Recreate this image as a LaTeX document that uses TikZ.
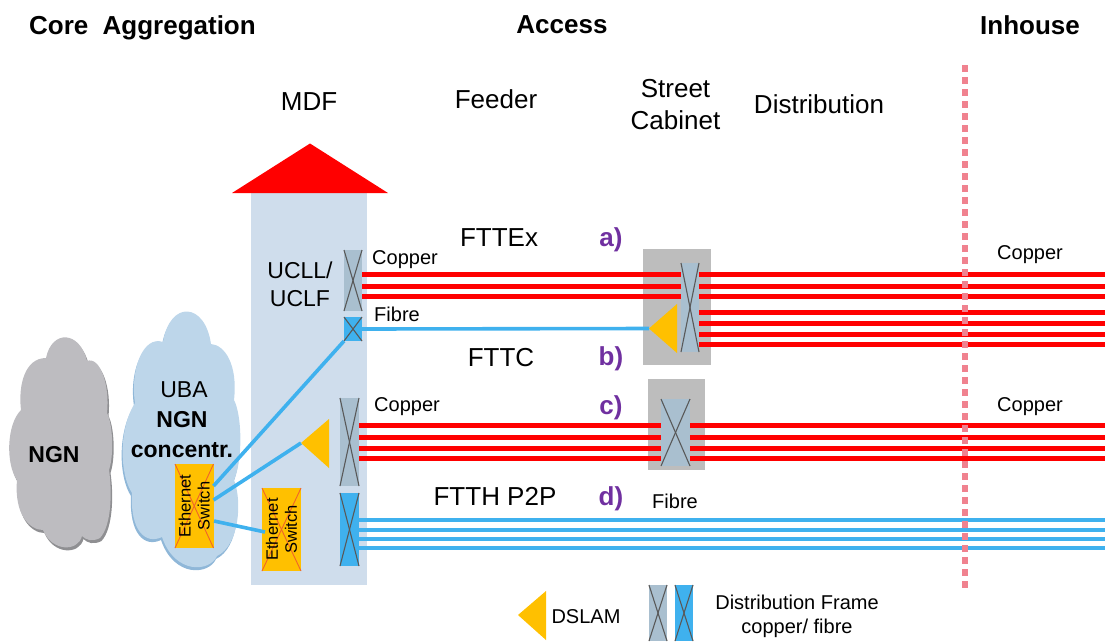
\documentclass[tikz,border=0pt]{standalone}
\usepackage{fontspec}
\setmainfont{Liberation Sans}
\definecolor{cuframe}{HTML}{A9BFCF}
\definecolor{fiframe}{HTML}{3FB1EE}
\definecolor{crossc}{HTML}{595959}
\definecolor{bldg}{HTML}{CFDDEC}
\definecolor{cabin}{HTML}{BDBDBD}
\definecolor{amber}{HTML}{FFC000}
\definecolor{swx}{HTML}{F0642A}
\definecolor{fib}{HTML}{3FB1EE}
\definecolor{purp}{HTML}{7030A0}
\definecolor{dotc}{HTML}{F0828F}
\definecolor{cgray}{HTML}{BDBCC0}
\definecolor{sgray}{HTML}{8F8F92}
\definecolor{cblue}{HTML}{BDD6EA}
\definecolor{sblue}{HTML}{8FB7D8}
\tikzset{
  box/.style={rectangle,draw=none,inner sep=0pt,outer sep=0pt},
  crossln/.style={draw=crossc,line width=1.1pt},
  swcross/.style={draw=swx,line width=0.9pt},
  copper/.style={draw=red,line width=5pt},
  fibre/.style={draw=fib,line width=3.6pt},
  txtL/.style={font=\fontsize{26}{32}\selectfont,align=center,inner sep=0pt},
  txtB/.style={font=\fontsize{26}{32}\selectfont\bfseries,align=center,inner sep=0pt},
  txtM/.style={font=\fontsize{23}{28}\selectfont,align=center,inner sep=0pt},
  txtMB/.style={font=\fontsize{23}{30}\selectfont\bfseries,align=center,inner sep=0pt},
  txtS/.style={font=\fontsize{20}{24}\selectfont,align=center,inner sep=0pt},
  swtxt/.style={font=\fontsize{16.5}{19}\selectfont,align=center,inner sep=0pt,rotate=90},
  tag/.style={font=\fontsize{26}{30}\selectfont\bfseries,text=purp,inner sep=0pt},
}
\newcommand{\frm}[6]{% name, x1, y1, x2, y2, fill
  \node[box,fill=#6,minimum width={(#4-#2)*1pt},minimum height={(#5-#3)*1pt}] (#1) at ({(#2+#4)/2},{(#3+#5)/2}) {};
  \draw[crossln] (#1.north west) -- (#1.south east);
  \draw[crossln] (#1.north east) -- (#1.south west);
}
\newcommand{\swbox}[5]{% name, x1, y1, x2, y2
  \node[box,fill=amber,minimum width={(#4-#2)*1pt},minimum height={(#5-#3)*1pt}] (#1) at ({(#2+#4)/2},{(#3+#5)/2}) {};
  \draw[swcross] (#1.north west) -- (#1.south east);
  \draw[swcross] (#1.north east) -- (#1.south west);
  \node[swtxt] (#1t) at (#1) {Ethernet\\Switch};
}
\newcommand{\graycloud}{(46,358) .. controls (52,329) and (80,331) .. (87,361)
  .. controls (100,356) and (110,385) .. (107,413)
  .. controls (113,425) and (114,455) .. (109,470)
  .. controls (112,490) and (112,525) .. (100,538)
  .. controls (92,542) and (86,540) .. (82,536)
  .. controls (78,552) and (52,552) .. (43,530)
  .. controls (30,530) and (14,515) .. (17,480)
  .. controls (6,465) and (6,425) .. (21,410)
  .. controls (18,385) and (25,358) .. (46,358) -- cycle}
\newcommand{\bluecloud}{(163,342) .. controls (170,300) and (205,302) .. (211,344)
  .. controls (225,345) and (238,365) .. (234,400)
  .. controls (242,415) and (243,460) .. (234,480)
  .. controls (242,500) and (240,545) .. (217,556)
  .. controls (210,572) and (175,575) .. (162,537)
  .. controls (145,545) and (130,530) .. (132,493)
  .. controls (120,475) and (118,430) .. (135,403)
  .. controls (130,370) and (143,335) .. (163,342) -- cycle}
\begin{document}
\begin{tikzpicture}[x=1pt,y=-1pt]
\useasboundingbox (0,0) rectangle (1105,641);
% clouds
\fill[sgray,shift={(1.5,3)}] \graycloud;
\fill[cgray] \graycloud;
\fill[sblue,shift={(-1,3)}] \bluecloud;
\fill[cblue] \bluecloud;
% building
\node[box,fill=bldg,minimum width=116pt,minimum height=392pt] (mdfhouse) at (309,389) {};
\fill[red] (232,193) -- (310,143.5) -- (388,193) -- cycle;
% cabinets
\node[box,fill=cabin,minimum width=68pt,minimum height=116pt] (cabA) at (677,307) {};
\node[box,fill=cabin,minimum width=57pt,minimum height=91pt] (cabC) at (676.5,424.5) {};
% right side ends
\foreach \n/\yy in {a/274.5,b/286,c/296,d/312,e/323,f/334,g/344,h/425.5,i/437,j/448,k/458.5,l/520,m/530,n/539,o/548}
  \coordinate (r\n) at (1105,\yy);
\frm{ucll}{344}{250}{362}{311}{cuframe}
\frm{ucfi}{344}{317}{362}{341}{fiframe}
\frm{fcu}{340}{398}{359}{486}{cuframe}
\frm{ffi}{340}{493}{359}{566}{fiframe}
\frm{cabframeA}{681}{263}{699}{352}{cuframe}
\frm{cabframeC}{661}{399}{690}{466}{cuframe}
% copper a
\foreach \n in {a,b,c}{
  \draw[copper] (ucll.east |- r\n) -- (cabframeA.west |- r\n);
  \draw[copper] (cabframeA.east |- r\n) -- (r\n);
}
\foreach \n in {d,e,f,g}{
  \draw[copper] (cabframeA.east |- r\n) -- (r\n);
}
% copper c
\foreach \n in {h,i,j,k}{
  \draw[copper] (fcu.east |- r\n) -- (cabframeC.west |- r\n);
  \draw[copper] (cabframeC.east |- r\n) -- (r\n);
}
% fibre d
\foreach \n in {l,m,n,o}{
  \draw[fibre,line width=3.2pt] (ffi.east |- r\n) -- (r\n);
}
% DSLAMs
\coordinate (dslamAtip) at (649,328.5);
\fill[amber] (dslamAtip) -- (677,304) -- (677,353) -- cycle;
\coordinate (dslamCtip) at (301,443);
\fill[amber] (dslamCtip) -- (329,419) -- (329,468) -- cycle;
\coordinate (dslamLtip) at (518,615);
\fill[amber] (dslamLtip) -- (546,591) -- (546,640) -- cycle;
% switches
\swbox{swA}{175}{464}{213.5}{548}
\swbox{swB}{262}{488}{301}{571}
% fibre links
\draw[fibre] (ucfi.east) -- (dslamAtip);
\coordinate (swAa) at (213.5,486);
\coordinate (swAb) at (213.5,500);
\coordinate (swAc) at (214,521);
\coordinate (swBa) at (265,532);
\draw[fibre] (swAa) -- (ucfi.south west);
\draw[fibre] (swAb) -- (dslamCtip);
\draw[fibre] (swAc) -- (swBa);
% in-house boundary
\coordinate (dotT) at (965,65);
\coordinate (dotB) at (965,590);
\draw[draw=dotc,line width=6pt,dash pattern=on 7pt off 5pt] (dotT) -- (dotB);
% legend
\frm{legcu}{649}{585}{667}{641}{cuframe}
\frm{legfi}{675}{585}{693}{641}{fiframe}
% texts
\node[txtB,anchor=base west] (tCore) at (29,34) {Core\hspace{7pt} Aggregation};
\node[txtB] (tAccess) at (562,25) {Access};
\node[txtB] (tInhouse) at (1030,25) {Inhouse};
\node[txtL] (tMDF) at (309,102) {MDF};
\node[txtL] (tFeeder) at (496,99) {Feeder};
\node[txtL] (tStreet) at (675.5,104.5) {Street\\Cabinet};
\node[txtL] (tDist) at (819,104) {Distribution};
\node[txtL] (tFTTEx) at (499,238) {FTTEx};
\node[txtL] (tFTTC) at (501,358) {FTTC};
\node[txtL] (tFTTH) at (495,496) {FTTH P2P};
\node[tag] (ta) at (611,239.5) {a)};
\node[tag] (tb) at (611,358.5) {b)};
\node[tag] (tc) at (611,407.5) {c)};
\node[tag] (td) at (611,498.5) {d)};
\node[txtS] (tCu1) at (405,260) {Copper};
\node[txtS] (tFi1) at (397,314) {Fibre};
\node[txtS] (tCu2) at (407,407) {Copper};
\node[txtS] (tCu3) at (1030,255) {Copper};
\node[txtS] (tCu4) at (1030,407) {Copper};
\node[txtS] (tFi2) at (675,501) {Fibre};
\node[txtM] (tUCL) at (300,284.5) {UCLL/\\UCLF};
\node[txtM] (tUBA) at (184,390) {UBA};
\node[txtMB] (tNGNc) at (182,435) {NGN\\concentr.};
\node[txtMB] (tNGN) at (54,455) {NGN};
\node[txtS] (tDSLAM) at (586,617) {DSLAM};
\node[txtS] (tDF) at (797,616.5) {Distribution Frame\\copper/ fibre};
\end{tikzpicture}
\end{document}
